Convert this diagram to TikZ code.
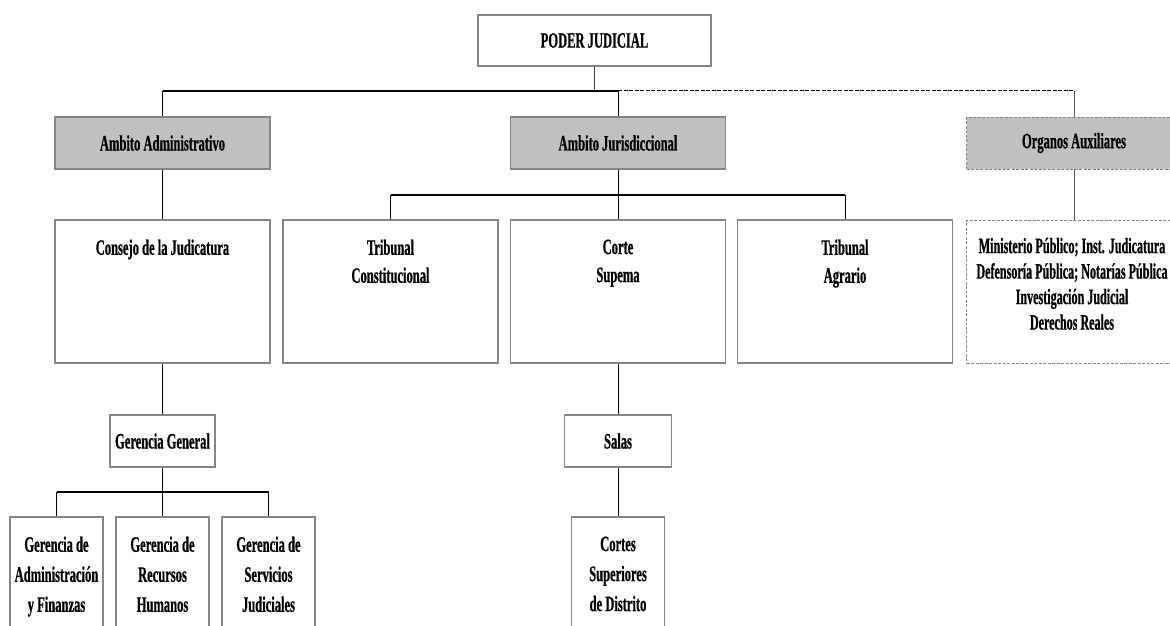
\documentclass[tikz,border=0pt]{standalone}
\usepackage{fontspec}
\newfontfamily\orgfont{Liberation Serif}[FakeStretch=0.57, FakeBold=0.6]
\newfontfamily\auxfont{Liberation Serif}[FakeStretch=0.55, FakeBold=0.6]
\usetikzlibrary{positioning}
\definecolor{boxgray}{HTML}{C0C0C0}
\definecolor{edgegray}{HTML}{858585}
\begin{document}
\begin{tikzpicture}[x=1pt,y=-1pt]
        \tikzstyle{every node}=[font=\orgfont\bfseries\fontsize{22}{28}\selectfont, align=center];
        \tikzstyle{unit}=[rectangle, draw=edgegray, line width=1.4pt, fill=white, inner sep=0pt];
        \tikzstyle{ambito}=[unit, fill=boxgray];
        \tikzstyle{auxbox}=[unit, line width=0.8pt, dash pattern=on 3pt off 1.5pt];
        \tikzstyle{lbl}=[inner sep=0pt];
        \tikzstyle{link}=[draw=black, line width=0.9pt];
        \tikzstyle{bar}=[draw=black, line width=2pt];

          \useasboundingbox (0,0) rectangle (1170,626);
          \clip (0,0) rectangle (1170,626);

          % top level
          \node(poder)[unit, minimum width=233pt, minimum height=51pt] at (594.5,40.5) {PODER JUDICIAL};
          \node(admin)[ambito, minimum width=215pt, minimum height=52pt] at (162.5,143) {Ambito Administrativo};
          \node(juris)[ambito, minimum width=215pt, minimum height=52pt] at (618,143) {Ambito Jurisdiccional};
          \node(aux)[auxbox, fill=boxgray, minimum width=215pt, minimum height=52pt] at (1074,143) {Organos Auxiliares};

          % tall boxes, text on top
          \node(consejo)[unit, minimum width=215pt, minimum height=143pt] at (162.5,291.5) {};
          \node(tconst)[unit, minimum width=215pt, minimum height=143pt] at (390.5,291.5) {};
          \node(corte)[unit, minimum width=215pt, minimum height=143pt] at (618,291.5) {};
          \node(tagr)[unit, minimum width=215pt, minimum height=143pt] at (845,291.5) {};
          \node(minis)[auxbox, minimum width=215pt, minimum height=143pt] at (1074,291.5) {};

          \node[lbl, below=20pt of consejo.north] {Consejo de la Judicatura};
          \node[lbl, below=20pt of tconst.north] {Tribunal\\Constitucional};
          \node[lbl, below=20pt of corte.north] {Corte\\Supema};
          \node[lbl, below=20pt of tagr.north] {Tribunal\\Agrario};
          \node[lbl, below=18pt of minis.north, xshift=-2pt, font=\auxfont\bfseries\fontsize{22}{25.5}\selectfont]
            {Ministerio P\'ublico; Inst. Judicatura\\Defensor\'ia P\'ublica; Notar\'ias P\'ublica\\Investigaci\'on Judicial\\Derechos Reales};

          % third level
          \node(gergen)[unit, minimum width=105pt, minimum height=52pt] at (162.5,441) {Gerencia General};
          \node(salas)[unit, minimum width=107pt, minimum height=52pt] at (618,441) {Salas};

          \foreach \n/\x in {gadm/56.5, grrhh/162.5, gserv/268.5, cortes/618}{
            \node(\n)[unit, minimum width=93pt, minimum height=143pt] at (\x,588.5) {};
          }
          \node[lbl, below=20pt of gadm.north, font=\orgfont\bfseries\fontsize{22}{30}\selectfont] {Gerencia de\\Administraci\'on\\y Finanzas};
          \node[lbl, below=20pt of grrhh.north, font=\orgfont\bfseries\fontsize{22}{30}\selectfont] {Gerencia de\\Recursos\\Humanos};
          \node[lbl, below=20pt of gserv.north, font=\orgfont\bfseries\fontsize{22}{30}\selectfont] {Gerencia de\\Servicios\\Judiciales};
          \node[lbl, below=20pt of cortes.north, font=\orgfont\bfseries\fontsize{22}{30}\selectfont] {Cortes\\Superiores\\de Distrito};

          % connectors
          \coordinate (bus) at (595,90.5);
          \coordinate (jbus) at (618,195);
          \coordinate (gbus) at (162.5,492);

          \draw[link, draw=black!75] (poder.south) -- (poder.south |- bus);
          \draw[bar] (admin.north |- bus) -- (juris.north |- bus);
          \draw[bar, line width=1.4pt, dash pattern=on 4pt off 1.5pt] (juris.north |- bus) -- (aux.north |- bus);
          \foreach \n in {admin,juris}{
            \draw[link] (\n.north |- bus) -- (\n.north);
          }
          \draw[link, draw=black!65] (aux.north |- bus) -- (aux.north);

          \draw[link] (admin) -- (consejo);
          \draw[link] (consejo) -- (gergen);
          \draw[link] (gergen.south) -- (gbus);
          \draw[bar] (gadm.north |- gbus) -- (gserv.north |- gbus);
          \foreach \n in {gadm,grrhh,gserv}{
            \draw[link] (\n.north |- gbus) -- (\n.north);
          }

          \draw[link] (juris) -- (corte);
          \draw[bar] (tconst.north |- jbus) -- (tagr.north |- jbus);
          \foreach \n in {tconst,tagr}{
            \draw[link] (\n.north |- jbus) -- (\n.north);
          }
          \draw[link] (corte) -- (salas);
          \draw[link] (salas) -- (cortes);

          \draw[link, draw=black!65] (aux) -- (minis);
      \end{tikzpicture}
\end{document}
